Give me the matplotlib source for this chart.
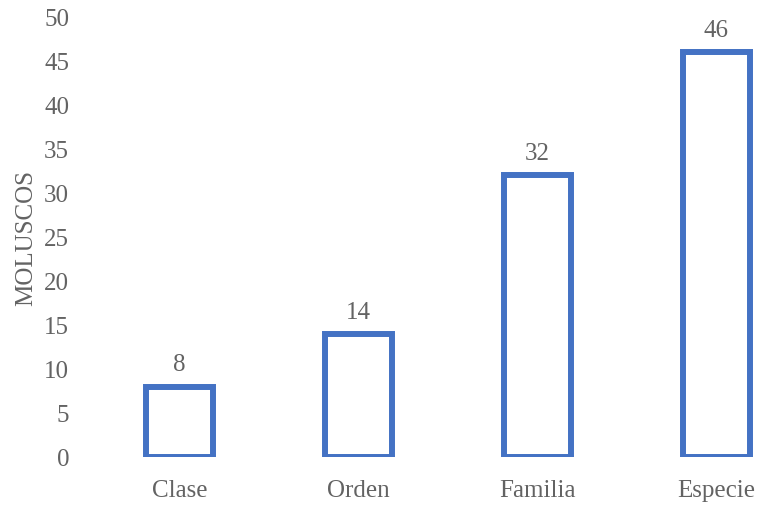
import matplotlib
matplotlib.use("Agg")
import matplotlib.pyplot as plt

categorias = ["Clase", "Orden", "Familia", "Especie"]
valores = [8, 14, 32, 46]
yticks = [0, 5, 10, 15, 20, 25, 30, 35, 40, 45, 50]

azul = "#4472C4"
gris = "#636363"

plt.rcParams["font.family"] = ["Liberation Serif", "DejaVu Serif"]
plt.rcParams["font.size"] = 18

fig = plt.figure(figsize=(7.6, 5.06), dpi=100)
ax = fig.add_axes([90 / 760, 48 / 506, 670 / 760, 440 / 506])

x = range(len(categorias))
bars = ax.bar(x, valores, width=0.375, facecolor="white",
              edgecolor=azul, linewidth=4.3)

for b, v in zip(bars, valores):
    ax.annotate(str(v), (b.get_x() + b.get_width() / 2, v),
                xytext=(0, 8), textcoords="offset points",
                ha="center", va="bottom", color=gris)

ax.set_xlim(-0.5, -0.5 + 670 / 179)
ax.set_ylim(0, 50)
ax.set_xticks(list(x))
ax.set_xticklabels(categorias)
ax.set_yticks(yticks)
ax.tick_params(axis="both", length=0, colors=gris)
ax.tick_params(axis="y", pad=15)
ax.tick_params(axis="x", pad=16)
ax.set_ylabel("MOLUSCOS", color=gris, labelpad=5)

for s in ax.spines.values():
    s.set_visible(False)

fig.savefig("out.png", dpi=100)
